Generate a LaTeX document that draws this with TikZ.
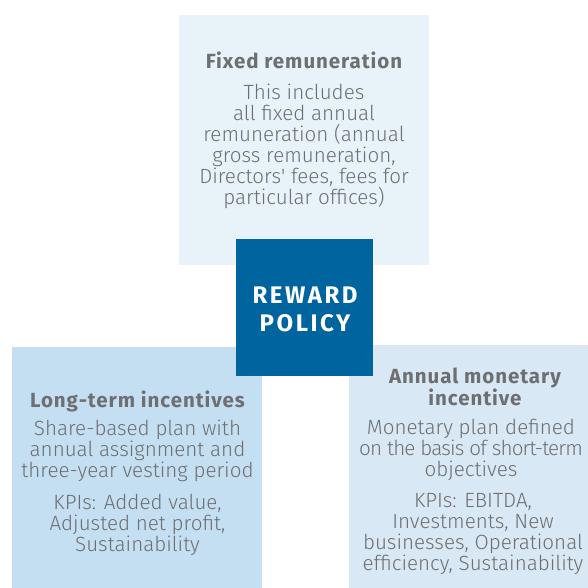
\documentclass[tikz,border=0pt]{standalone}
\usepackage{fontspec}
\setmainfont{Fira Sans}[UprightFont=* Light, BoldFont=* Bold]
\newfontfamily\bodyfont{Fira Sans Light}
\newfontfamily\headfont{Fira Sans Bold}[LetterSpace=4.6]
\newfontfamily\corefont{Fira Sans Bold}[LetterSpace=10.5]
\definecolor{boxtop}{RGB}{231,242,249}
\definecolor{boxleft}{RGB}{197,223,242}
\definecolor{boxright}{RGB}{216,232,245}
\definecolor{boxcore}{RGB}{0,101,158}
\definecolor{txtgray}{RGB}{110,111,113}
\begin{document}
\begin{tikzpicture}[x=1pt,y=-1pt,
  panel/.style={draw=none,inner sep=0pt,outer sep=0pt,anchor=north west},
  head/.style={text=txtgray,font=\headfont\fontsize{20.5}{22}\selectfont,align=center,inner sep=0pt},
  body/.style={text=txtgray,font=\bodyfont\fontsize{20.6}{21}\selectfont,align=center,inner sep=0pt,anchor=north},
  core/.style={text=white,font=\corefont\fontsize{24}{28}\selectfont,align=center,inner sep=0pt,anchor=north}]
\useasboundingbox (0,0) rectangle (588,588);
% panels
\node[panel,fill=boxtop,minimum width=250pt,minimum height=250pt] (fixedbox) at (179,15) {};
\node[panel,fill=boxleft,minimum width=250pt,minimum height=241pt] (ltibox) at (12,347) {};
\node[panel,fill=boxright,minimum width=239pt,minimum height=243pt] (amibox) at (349,345) {};
\node[panel,fill=boxcore,minimum width=137pt,minimum height=137pt] (corebox) at (236,239) {};
% centre label
\node[core] (coretxt) at (305,286.5) {REWARD\\POLICY};
% fixed remuneration
\node[head,anchor=base] (fixedhead) at (304,69) {Fixed remuneration};
\node[body] (fixedbody) at (304,83.9) {This includes\\all fixed annual\\remuneration (annual\\gross remuneration,\\Directors\textquotesingle{} fees, fees for\\particular offices)};
% long-term incentives
\node[head,anchor=base] (ltihead) at (137.5,407) {Long-term incentives};
\node[body] (ltibody) at (137.5,419.9) {Share-based plan with\\annual assignment and\\three-year vesting period};
\node[body] (ltikpi) at (137.5,493.9) {KPIs: Added value,\\Adjusted net profit,\\Sustainability};
% annual monetary incentive
\node[head,anchor=north] (amihead) at (475,368.2) {Annual monetary\\incentive};
\node[body] (amibody) at (471,418.9) {Monetary plan defined\\{\addfontfeature{LetterSpace=-4}on the basis of short-term}\\objectives};
\node[body] (amikpi) at (473,492.8) {KPIs: EBITDA,\\Investments, New\\businesses, Operational\\efficiency, Sustainability};
\end{tikzpicture}
\end{document}
